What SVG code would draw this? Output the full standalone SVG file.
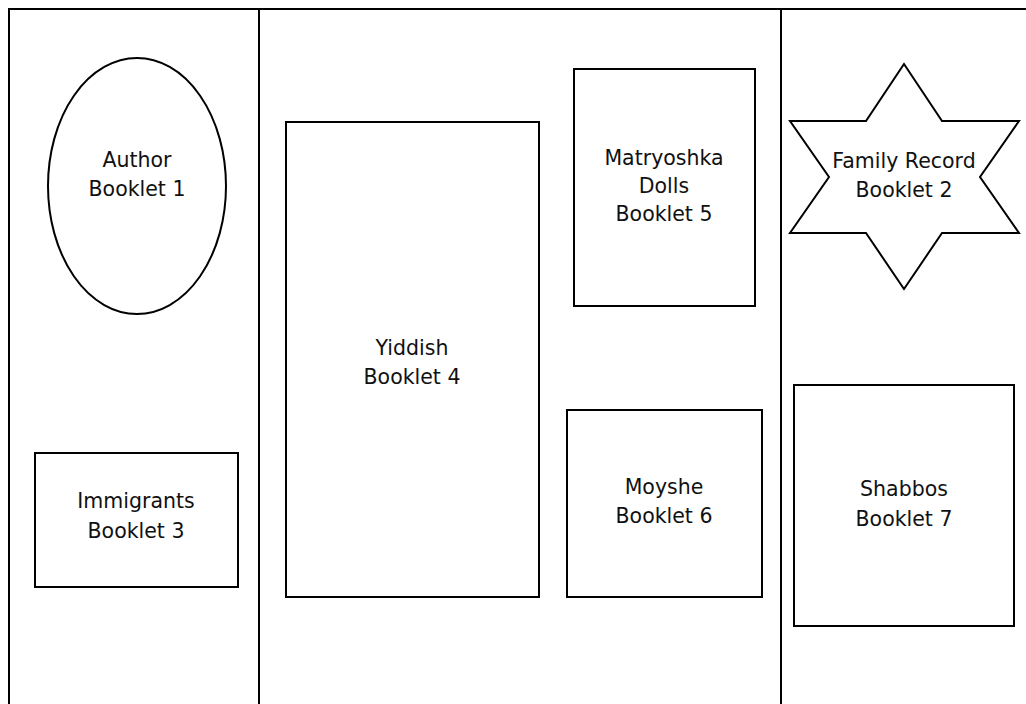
<svg xmlns="http://www.w3.org/2000/svg" width="1026" height="704" viewBox="0 0 1026 704">
<style>
.s{fill:#fff;stroke:#000;stroke-width:2}
.f{fill:none;stroke:#000;stroke-width:2}
text{font-family:"DejaVu Sans",Verdana,sans-serif;font-size:20.5px;fill:#111;text-anchor:middle}
</style>
<rect width="1026" height="704" fill="#fff"/>
<g id="frame">
<path class="f" d="M9,710 V9 H1030"/>
<line class="f" x1="259" y1="9" x2="259" y2="710"/>
<line class="f" x1="781" y1="9" x2="781" y2="710"/>
</g>
<g id="booklet1">
<ellipse class="s" cx="137" cy="186" rx="89" ry="128"/>
<text x="137" y="167">Author</text>
<text x="137" y="196">Booklet 1</text>
</g>
<g id="booklet3">
<rect class="s" x="35" y="453" width="203" height="134"/>
<text x="136" y="508">Immigrants</text>
<text x="136" y="538">Booklet 3</text>
</g>
<g id="booklet4">
<rect class="s" x="286" y="122" width="253" height="475"/>
<text x="412" y="355">Yiddish</text>
<text x="412" y="384">Booklet 4</text>
</g>
<g id="booklet5">
<rect class="s" x="574" y="69" width="181" height="237"/>
<text x="664" y="165">Matryoshka</text>
<text x="664" y="193">Dolls</text>
<text x="664" y="221">Booklet 5</text>
</g>
<g id="booklet6">
<rect class="s" x="567" y="410" width="195" height="187"/>
<text x="664" y="494">Moyshe</text>
<text x="664" y="523">Booklet 6</text>
</g>
<g id="booklet2">
<polygon class="s" points="904,64 942,121 1019,121 980,177 1019,233 942,233 904,289 866,233 790,233 829,177 790,121 866,121"/>
<text x="904" y="168">Family Record</text>
<text x="904" y="197">Booklet 2</text>
</g>
<g id="booklet7">
<rect class="s" x="794" y="385" width="220" height="241"/>
<text x="904" y="496">Shabbos</text>
<text x="904" y="526">Booklet 7</text>
</g>
<g id="connectors"/>
</svg>
